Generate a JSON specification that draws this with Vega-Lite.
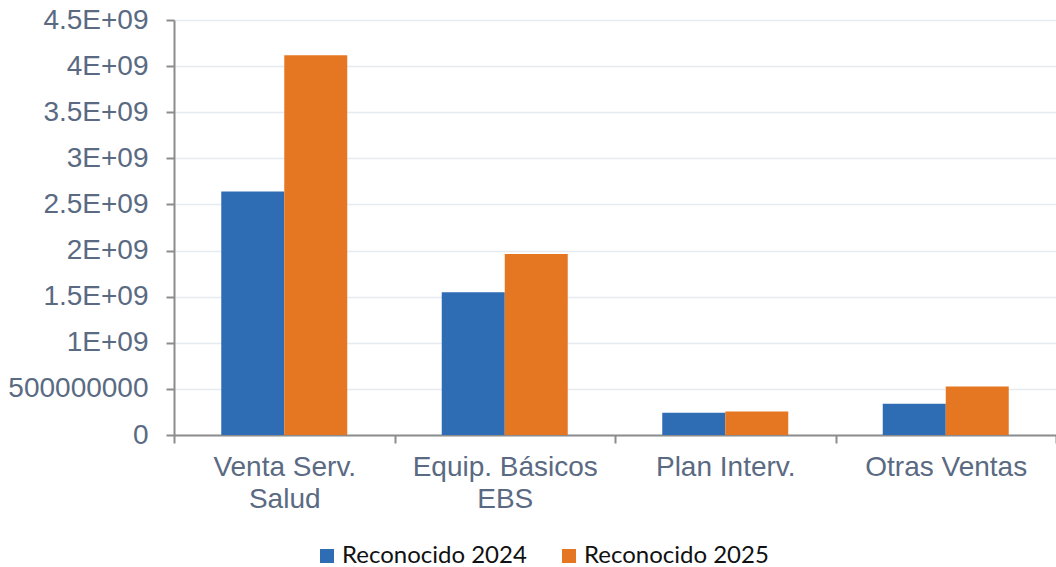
{
  "$schema": "https://vega.github.io/schema/vega-lite/v6.json",
  "width": 882,
  "height": 415,
  "autosize": "none",
  "padding": {"left": 174, "top": 20, "right": 0, "bottom": 132},
  "background": "white",
  "data": {
    "values": [
      {"categoria": "Venta Serv. Salud", "serie": "Reconocido 2024", "valor": 2640000000},
      {"categoria": "Venta Serv. Salud", "serie": "Reconocido 2025", "valor": 4117000000},
      {"categoria": "Equip. Básicos EBS", "serie": "Reconocido 2024", "valor": 1549000000},
      {"categoria": "Equip. Básicos EBS", "serie": "Reconocido 2025", "valor": 1962000000},
      {"categoria": "Plan Interv.", "serie": "Reconocido 2024", "valor": 241000000},
      {"categoria": "Plan Interv.", "serie": "Reconocido 2025", "valor": 255000000},
      {"categoria": "Otras Ventas", "serie": "Reconocido 2024", "valor": 339000000},
      {"categoria": "Otras Ventas", "serie": "Reconocido 2025", "valor": 527000000}
    ]
  },
  "config": {
    "view": {"stroke": null},
    "font": "Liberation Sans"
  },
  "mark": {"type": "bar"},
  "encoding": {
    "x": {
      "field": "categoria",
      "type": "nominal",
      "sort": null,
      "title": null,
      "scale": {"paddingInner": 0, "paddingOuter": 0},
      "axis": {
        "labelAngle": 0,
        "domainColor": "#8c8c8c",
        "domainWidth": 2,
        "tickColor": "#8c8c8c",
        "tickWidth": 2,
        "tickSize": 8,
        "tickBand": "extent",
        "labelFont": "Liberation Sans",
        "labelFontSize": 28,
        "labelColor": "#5a6a82",
        "labelPadding": 10,
        "labelLineHeight": 32,
        "labelLimit": 0,
        "labelExpr": "datum.label == 'Venta Serv. Salud' ? ['Venta Serv.', 'Salud'] : datum.label == 'Equip. Básicos EBS' ? ['Equip. Básicos', 'EBS'] : datum.label"
      }
    },
    "xOffset": {
      "field": "serie",
      "type": "nominal",
      "scale": {"paddingInner": 0, "paddingOuter": 0.75}
    },
    "y": {
      "field": "valor",
      "type": "quantitative",
      "title": null,
      "scale": {"domain": [0, 4500000000], "nice": false},
      "axis": {
        "values": [0, 500000000, 1000000000, 1500000000, 2000000000, 2500000000, 3000000000, 3500000000, 4000000000, 4500000000],
        "labelExpr": "datum.value == 0 ? '0' : datum.value == 500000000 ? '500000000' : format(datum.value / 1000000000, '') + 'E+09'",
        "domainColor": "#8c8c8c",
        "domainWidth": 2,
        "tickColor": "#8c8c8c",
        "tickWidth": 2,
        "tickSize": 8,
        "gridColor": "#e6ebf2",
        "gridWidth": 1.5,
        "labelFont": "Liberation Sans",
        "labelFontSize": 28,
        "labelColor": "#5a6a82",
        "labelPadding": 18,
        "labelLimit": 0
      }
    },
    "color": {
      "field": "serie",
      "type": "nominal",
      "scale": {"domain": ["Reconocido 2024", "Reconocido 2025"], "range": ["#2e6db4", "#e67722"]},
      "legend": {
        "title": null,
        "orient": "none",
        "direction": "horizontal",
        "legendX": 141,
        "legendY": 524,
        "symbolType": "square",
        "symbolSize": 196,
        "symbolStrokeWidth": 0,
        "labelFont": "Lato",
        "labelFontSize": 24,
        "labelColor": "#111111",
        "labelOffset": 3,
        "labelLimit": 0,
        "columnPadding": 30
      }
    }
  }
}
